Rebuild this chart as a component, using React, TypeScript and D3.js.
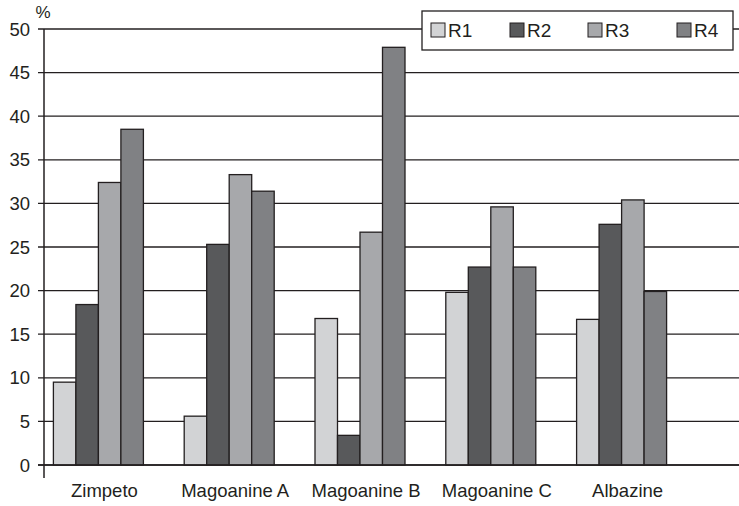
import React from "react";
import * as d3 from "d3";

const categories = ["Zimpeto", "Magoanine A", "Magoanine B", "Magoanine C", "Albazine"];
const seriesNames = ["R1", "R2", "R3", "R4"];
const r1 = [9.5, 5.6, 16.8, 19.8, 16.7];
const r2 = [18.4, 25.3, 3.4, 22.7, 27.6];
const r3 = [32.4, 33.3, 26.7, 29.6, 30.4];
const r4 = [38.5, 31.4, 47.9, 22.7, 19.9];
const yTicks = [0, 5, 10, 15, 20, 25, 30, 35, 40, 45, 50];
const colors = ["#d2d3d5", "#58595b", "#a7a8ab", "#808184"];

const W = 739;
const H = 506;
const FONT = "'Liberation Sans', Arial, Helvetica, sans-serif";

export default function App() {
  const series = [r1, r2, r3, r4];
  const axisX = 44;
  const y = d3.scaleLinear().domain([0, 50]).range([465, 29]);
  const x0 = d3.scaleBand<string>().domain(categories).range([33, 687]);
  const groupW = 90;
  const x1 = d3.scaleBand<string>().domain(seriesNames).range([0, groupW]);

  const legendX = [431, 510, 588, 677];

  return (
    <svg width={W} height={H} style={{ position: "absolute", left: 0, top: 0, background: "#fff" }}>
      {yTicks.map((t) => (
        <g key={t}>
          <line x1={38} x2={W} y1={y(t)} y2={y(t)} stroke="#231f20" strokeWidth={1.3} />
          <text x={30} y={y(t)} dy="0.36em" textAnchor="end" fontFamily={FONT} fontSize={18.5} fill="#231f20">
            {t}
          </text>
        </g>
      ))}
      <text x={43} y={18} textAnchor="middle" fontFamily={FONT} fontSize={17} fill="#231f20">%</text>
      {categories.map((c, ci) => {
        const cx = (x0(c) as number) + x0.bandwidth() / 2;
        const gx = cx - groupW / 2;
        return (
          <g key={c}>
            {series.map((s, si) => (
              <rect
                key={si}
                x={gx + (x1(seriesNames[si]) as number)}
                y={y(s[ci])}
                width={x1.bandwidth()}
                height={y(0) - y(s[ci])}
                fill={colors[si]}
                stroke="#231f20"
                strokeWidth={1.3}
              />
            ))}
            <text x={cx + 6} y={497} textAnchor="middle" fontFamily={FONT} fontSize={18.5} fill="#231f20">
              {c}
            </text>
          </g>
        );
      })}
      <line x1={axisX} x2={axisX} y1={y(50)} y2={478} stroke="#231f20" strokeWidth={1.5} />
      <line x1={38} x2={W} y1={y(0)} y2={y(0)} stroke="#231f20" strokeWidth={1.5} />
      <rect x={422} y={11} width={311} height={39} fill="#fff" stroke="#231f20" strokeWidth={1.3} />
      {seriesNames.map((n, i) => (
        <g key={n}>
          <rect x={legendX[i]} y={23} width={14} height={14} fill={colors[i]} stroke="#231f20" strokeWidth={1} />
          <text x={legendX[i] + 17} y={30} dy="0.36em" fontFamily={FONT} fontSize={19} fill="#231f20">
            {n}
          </text>
        </g>
      ))}
    </svg>
  );
}
